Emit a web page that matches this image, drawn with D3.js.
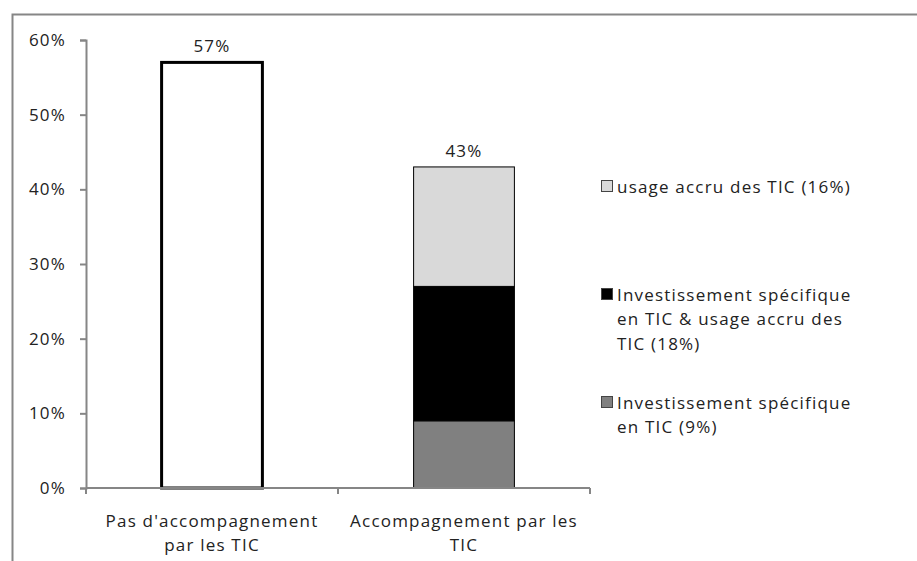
<!DOCTYPE html>
<head>
  <meta charset="utf-8">
  <script src="https://d3js.org/d3.v7.min.js"></script>
  <style type="text/css">
    body { margin: 0; background: #fff; }
    text { font-family: "Open Sans", sans-serif; font-size: 17px; letter-spacing: 1.2px; fill: #222; }
  </style>
</head>
<body>
  <script type="text/javascript">
    // data
    var categories = ["Pas d'accompagnement par les TIC", "Accompagnement par les TIC"];
    var catLines = [["Pas d'accompagnement", "par les TIC"], ["Accompagnement par les", "TIC"]];
    var invest = [0, 9];
    var investUsage = [0, 18];
    var usage = [0, 16];
    var noSupport = [57, 0];
    var totals = [57, 43];
    var yTicks = [0, 10, 20, 30, 40, 50, 60];

    var legendLines = [
      ["usage accru des TIC (16%)"],
      ["Investissement spécifique", "en TIC & usage accru des", "TIC (18%)"],
      ["Investissement spécifique", "en TIC (9%)"]
    ];
    var legendColors = ["#d9d9d9", "#000000", "#808080"];
    var seriesColors = ["#808080", "#000000", "#d9d9d9"];

    var W = 917, H = 561;
    var margin = { top: 40, left: 86 }, plotW = 504, plotH = 448;

    var svg = d3.select("body").append("svg")
      .attr("width", W).attr("height", H);

    // outer frame (runs off right and bottom)
    svg.append("rect")
      .attr("x", 12.5).attr("y", 14.5)
      .attr("width", 1000).attr("height", 1000)
      .attr("fill", "none").attr("stroke", "#868686").attr("stroke-width", 2);

    var g = svg.append("g").attr("transform", "translate(" + margin.left + "," + margin.top + ")");

    var x = d3.scaleBand().domain(categories).range([0, plotW]).paddingInner(0.6).paddingOuter(0.3);
    var y = d3.scaleLinear().domain([0, 60]).range([plotH, 0]);

    // stacked data
    var rows = categories.map(function(c, i) {
      return { cat: c, s0: invest[i], s1: investUsage[i], s2: usage[i] };
    });
    var stack = d3.stack().keys(["s0", "s1", "s2"])(rows);

    g.selectAll("g.layer").data(stack).enter().append("g")
      .attr("class", "layer")
      .attr("fill", function(d, i) { return seriesColors[i]; })
      .selectAll("rect").data(function(d) { return d.filter(function(p) { return p[1] > p[0]; }); })
      .enter().append("rect")
      .attr("x", function(d) { return x(d.data.cat); })
      .attr("width", x.bandwidth())
      .attr("y", function(d) { return y(d[1]); })
      .attr("height", function(d) { return y(d[0]) - y(d[1]); })
      .attr("stroke", "#000").attr("stroke-width", 1);

    // white bar
    g.selectAll("rect.white").data(noSupport.map(function(v, i) { return { v: v, c: categories[i] }; })
        .filter(function(d) { return d.v > 0; }))
      .enter().append("rect").attr("class", "white")
      .attr("x", function(d) { return x(d.c); })
      .attr("width", x.bandwidth())
      .attr("y", function(d) { return y(d.v); })
      .attr("height", function(d) { return y(0) - y(d.v); })
      .attr("fill", "#fff").attr("stroke", "#000").attr("stroke-width", 3);

    // total labels
    g.selectAll("text.total").data(totals).enter().append("text")
      .attr("class", "total")
      .attr("x", function(d, i) { return x(categories[i]) + x.bandwidth() / 2; })
      .attr("y", function(d) { return y(d) - 10; })
      .attr("text-anchor", "middle")
      .text(function(d) { return d + "%"; });

    // y axis
    var yAxis = g.append("g").call(d3.axisLeft(y).tickValues(yTicks).tickSize(6).tickPadding(14)
      .tickFormat(function(d) { return d + "%"; }));
    yAxis.select(".domain").attr("stroke", "#868686").attr("stroke-width", 2);
    yAxis.selectAll(".tick line").attr("stroke", "#868686").attr("stroke-width", 2);
    yAxis.selectAll("text").style("font-size", "17px").style("font-family", "'Open Sans', sans-serif").attr("fill", "#222");

    // x axis
    var xb = d3.scaleOrdinal().domain([0, 1, 2]).range([0, plotW / 2, plotW]);
    var xAxisG = g.append("g").attr("transform", "translate(0," + plotH + ")");
    xAxisG.append("line").attr("x1", 0).attr("x2", plotW).attr("stroke", "#868686").attr("stroke-width", 2);
    xAxisG.selectAll("line.t").data([0, 1, 2]).enter().append("line")
      .attr("x1", function(d) { return xb(d); }).attr("x2", function(d) { return xb(d); })
      .attr("y1", 0).attr("y2", 6).attr("stroke", "#868686").attr("stroke-width", 2);

    categories.forEach(function(c, i) {
      var t = xAxisG.append("text").attr("text-anchor", "middle")
        .attr("x", x(c) + x.bandwidth() / 2).attr("y", 39);
      catLines[i].forEach(function(l, j) {
        t.append("tspan").attr("x", x(c) + x.bandwidth() / 2).attr("dy", j ? 24 : 0).text(l);
      });
    });

    // legend
    var legY = [186, 294, 402];
    var leg = svg.append("g");
    legendLines.forEach(function(lines, i) {
      leg.append("rect").attr("x", 601.5).attr("y", legY[i] - 5.5).attr("width", 11).attr("height", 11)
        .attr("fill", legendColors[i]).attr("stroke", "#444").attr("stroke-width", 1);
      var t = leg.append("text").attr("x", 617).attr("y", legY[i] + 6.5);
      lines.forEach(function(l, j) {
        t.append("tspan").attr("x", 617).attr("dy", j ? 24.5 : 0).text(l);
      });
    });
  </script>
</body>
